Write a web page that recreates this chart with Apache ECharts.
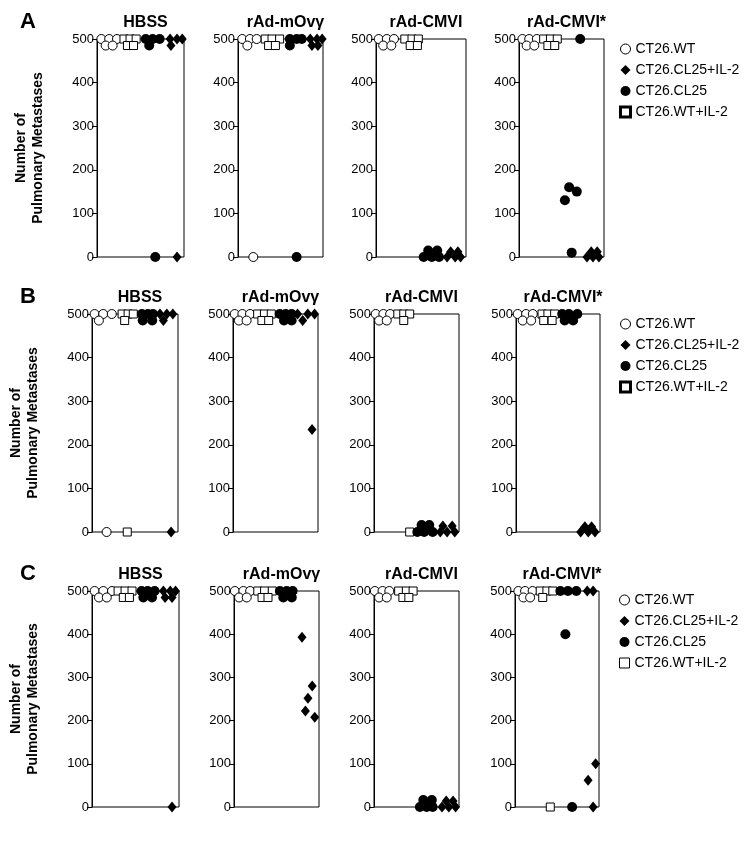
<!DOCTYPE html>
<html>
<head>
<meta charset="utf-8">
<script src="https://cdn.jsdelivr.net/npm/echarts@6/dist/echarts.min.js"></script>
<style>
  html, body { margin: 0; padding: 0; background: #fff; }
</style>
</head>
<body>
<div id="main" style="width: 750px; height: 851px;"></div>
<script>
// groups, treatments, panel rows
const groups = ['CT26.WT', 'CT26.CL25+IL-2', 'CT26.CL25', 'CT26.WT+IL-2'];
const treatments = ['HBSS', 'rAd-mOvγ', 'rAd-CMVI', 'rAd-CMVI*'];
const rowLetters = ['A', 'B', 'C'];
const yTicks = [0, 100, 200, 300, 400, 500];

// each point is [position inside panel (0-100), number of metastases]
// one list per treatment panel: HBSS, rAd-mOvγ, rAd-CMVI, rAd-CMVI*
// row A
const aWT = [
  [[5, 500], [14, 500], [23, 500], [10, 485], [18, 485]],
  [[5, 500], [14, 500], [22, 500], [11, 485], [18, 0]],
  [[3, 500], [12, 500], [20, 500], [8, 485], [17, 485]],
  [[4, 500], [12, 500], [21, 500], [9, 485], [18, 485]]
];
const aCL25IL2 = [
  [[84, 500], [92, 500], [98, 500], [85, 485], [92, 0]],
  [[85, 500], [93, 500], [99, 500], [87, 485], [94, 485]],
  [[79, 0], [88, 0], [94, 0], [83, 12], [91, 12]],
  [[80, 0], [87, 0], [94, 0], [85, 12], [92, 12]]
];
const aCL25 = [
  [[56, 500], [64, 500], [72, 500], [60, 485], [67, 0]],
  [[61, 500], [69, 500], [75, 500], [61, 485], [69, 0]],
  [[53, 0], [62, 0], [70, 0], [58, 15], [68, 15]],
  [[72, 500], [54, 130], [59, 160], [68, 150], [62, 10]]
];
const aWTIL2 = [
  [[31, 500], [38, 500], [45, 500], [35, 485], [42, 485]],
  [[32, 500], [40, 500], [49, 500], [36, 485], [44, 485]],
  [[32, 500], [40, 500], [47, 500], [38, 485], [46, 485]],
  [[29, 500], [37, 500], [45, 500], [34, 485], [42, 485]]
];
// row B
const bWT = [
  [[3, 500], [13, 500], [23, 500], [8, 485], [17, 0]],
  [[2, 500], [11, 500], [20, 500], [7, 485], [16, 485]],
  [[2, 500], [11, 500], [19, 500], [6, 485], [15, 485]],
  [[2, 500], [12, 500], [20, 500], [8, 485], [18, 485]]
];
const bCL25IL2 = [
  [[79, 500], [87, 500], [94, 500], [83, 485], [92, 0]],
  [[76, 500], [88, 500], [96, 500], [82, 485], [93, 235]],
  [[78, 0], [86, 0], [95, 0], [81, 14], [92, 14]],
  [[77, 0], [86, 0], [94, 0], [82, 12], [90, 12]]
];
const bCL25 = [
  [[58, 500], [65, 500], [71, 500], [59, 485], [70, 485]],
  [[55, 500], [62, 500], [69, 500], [60, 485], [69, 485]],
  [[51, 0], [59, 0], [69, 0], [56, 16], [65, 16]],
  [[55, 500], [63, 500], [73, 500], [58, 485], [68, 485]]
];
const bWTIL2 = [
  [[35, 500], [42, 500], [48, 500], [38, 485], [41, 0]],
  [[29, 500], [37, 500], [45, 500], [34, 485], [42, 485]],
  [[28, 500], [35, 500], [42, 500], [35, 485], [42, 0]],
  [[31, 500], [38, 500], [46, 500], [33, 485], [43, 485]]
];
// row C
const cWT = [
  [[3, 500], [13, 500], [23, 500], [8, 485], [17, 485]],
  [[1, 500], [11, 500], [19, 500], [6, 485], [15, 485]],
  [[1, 500], [10, 500], [18, 500], [6, 485], [15, 485]],
  [[4, 500], [12, 500], [21, 500], [10, 485], [18, 485]]
];
const cCL25IL2 = [
  [[82, 500], [90, 500], [96, 500], [84, 485], [92, 485], [92, 0]],
  [[80, 393], [92, 280], [87, 252], [84, 222], [95, 208]],
  [[80, 0], [88, 0], [96, 0], [85, 14], [93, 14]],
  [[86, 500], [93, 500], [96, 100], [87, 62], [93, 0]]
];
const cCL25 = [
  [[57, 500], [64, 500], [72, 500], [59, 485], [69, 485]],
  [[54, 500], [62, 500], [69, 500], [58, 485], [68, 485]],
  [[54, 0], [62, 0], [69, 0], [58, 16], [68, 16]],
  [[54, 500], [63, 500], [73, 500], [60, 400], [68, 0]]
];
const cWTIL2 = [
  [[30, 500], [38, 500], [46, 500], [36, 485], [43, 485]],
  [[28, 500], [36, 500], [45, 500], [33, 485], [40, 485]],
  [[29, 500], [38, 500], [46, 500], [34, 485], [41, 485]],
  [[30, 500], [38, 500], [45, 500], [33, 485], [42, 0]]
];

const rowData = [
  [aWT, aCL25IL2, aCL25, aWTIL2],
  [bWT, bCL25IL2, bCL25, bWTIL2],
  [cWT, cCL25IL2, cCL25, cWTIL2]
];

// layout (pixels)
const rowTop = [39, 314, 591];
const rowHeight = [218, 218, 216];
const colLeft = [[97, 238, 376, 519], [92, 233, 374, 516], [92, 234, 374, 515]];
const colWidth = [[87, 85, 90, 85], [86, 85, 85, 84], [87, 85, 85, 84]];
const legendTop = [37, 312, 588];

const font = '"Liberation Sans", Arial, Helvetica, sans-serif';
const ink = '#000';

const symbolStyles = [
  { symbol: 'circle', symbolSize: 9, itemStyle: { color: '#fff', borderColor: ink, borderWidth: 1, opacity: 1 } },
  { symbol: 'diamond', symbolSize: [9, 11], itemStyle: { color: ink, opacity: 1 } },
  { symbol: 'circle', symbolSize: 10, itemStyle: { color: ink, opacity: 1 } },
  { symbol: 'rect', symbolSize: 8, itemStyle: { color: '#fff', borderColor: ink, borderWidth: 1, opacity: 1 } }
];

const myChart = echarts.init(document.getElementById('main'));

const grids = [], xAxes = [], yAxes = [], series = [], titles = [], legends = [];

rowLetters.forEach(function (letter, r) {
  titles.push({
    text: letter, left: 15, top: rowTop[r] - 33,
    textStyle: { fontSize: 22, fontWeight: 'bold', color: ink, fontFamily: font }
  });
  treatments.forEach(function (name, c) {
    const idx = r * 4 + c;
    const left = colLeft[r][c], width = colWidth[r][c];
    grids.push({
      left: left, top: rowTop[r], width: width, height: rowHeight[r],
      show: true, borderColor: ink, borderWidth: 1, backgroundColor: 'transparent'
    });
    titles.push({
      text: name, left: left + width / 2, top: rowTop[r] - 29, textAlign: 'center',
      textStyle: { fontSize: 16, fontWeight: 'bold', color: ink, fontFamily: font }
    });
    xAxes.push({ gridIndex: idx, type: 'value', min: 0, max: 100, show: false });
    yAxes.push({
      gridIndex: idx, type: 'value', min: yTicks[0], max: yTicks[yTicks.length - 1], interval: 100,
      axisLine: { show: true, lineStyle: { color: ink, width: 1 } },
      axisTick: { show: true, length: 5, lineStyle: { color: ink } },
      axisLabel: { fontSize: 13, color: ink, margin: 3, fontFamily: font },
      splitLine: { show: false },
      name: c === 0 ? 'Number of\nPulmonary Metastases' : '',
      nameLocation: 'middle', nameGap: 50,
      nameTextStyle: { fontSize: 14, fontWeight: 'bold', color: ink, fontFamily: font, lineHeight: 17, align: 'center' }
    });
    groups.forEach(function (g, k) {
      series.push(Object.assign({
        name: g, type: 'scatter', xAxisIndex: idx, yAxisIndex: idx,
        data: rowData[r][k][c], clip: false, silent: true, z: k === 0 || k === 3 ? 2 : 3
      }, symbolStyles[k]));
    });
  });
  const squareIcon = r < 2
    ? { color: '#fff', borderColor: ink, borderWidth: 3 }
    : { color: '#fff', borderColor: ink, borderWidth: 1 };
  legends.push({
    orient: 'vertical', left: 614, top: legendTop[r], itemGap: 7,
    itemWidth: 10, itemHeight: 10, selectedMode: false,
    textStyle: { fontSize: 14, color: ink, fontFamily: font, lineHeight: 14 },
    data: [
      { name: groups[0], icon: 'circle', itemStyle: { color: '#fff', borderColor: ink, borderWidth: 1 } },
      { name: groups[1], icon: 'diamond', itemStyle: { color: ink } },
      { name: groups[2], icon: 'circle', itemStyle: { color: ink } },
      { name: groups[3], icon: 'rect', itemStyle: squareIcon }
    ]
  });
});

const option = {
  backgroundColor: '#fff',
  animation: false,
  title: titles,
  legend: legends,
  grid: grids,
  xAxis: xAxes,
  yAxis: yAxes,
  series: series
};
myChart.setOption(option);
</script>
</body>
</html>
